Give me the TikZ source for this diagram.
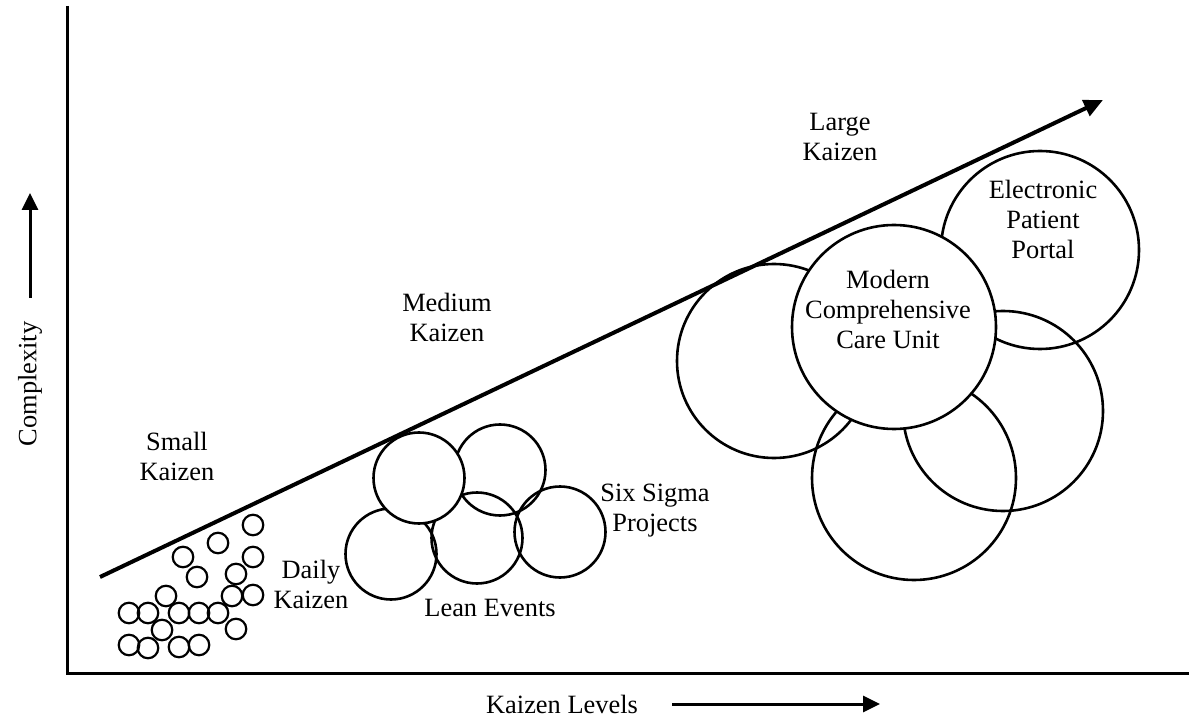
\documentclass[tikz,border=0pt]{standalone}
\usepackage{fontspec}
\setmainfont{Liberation Serif}
\usetikzlibrary{arrows.meta}
\begin{document}
\begin{tikzpicture}[x=0.5pt,y=-0.5pt,
  lbl/.style={align=center,font=\fontsize{13.2}{15}\selectfont,inner sep=0pt},
  axisline/.style={line width=1.5pt},
  tinyc/.style={draw,line width=1.1pt,circle,minimum size=20.5*0.5pt,inner sep=0pt},
  midc/.style={draw,line width=1.3pt,circle,minimum size=91*0.5pt,inner sep=0pt},
  bigc/.style={draw,line width=1.3pt,circle,inner sep=0pt},
  mainarrow/.style={line width=2pt,-{Triangle[length=9.5pt,width=8.5pt]}},
  sidearrow/.style={line width=1.5pt,-{Triangle[length=8.5pt,width=8pt]}}]
\useasboundingbox (0,0) rectangle (1200,727);
% axes
\coordinate (top) at (67,6);
\coordinate (origin) at (67,673);
\coordinate (right) at (1189,673);
\draw[axisline,line join=miter] (top) -- (origin) -- (right);
% axis labels
\node[lbl,rotate=90] (complexity) at (30,384) {Complexity};
\coordinate (cA) at (30,298);
\coordinate (cB) at (30,193);
\draw[sidearrow] (cA) -- (cB);
\node[lbl] (levels) at (562,704) {Kaizen Levels};
\coordinate (lA) at (672,704);
\coordinate (lB) at (880,704);
\draw[sidearrow] (lA) -- (lB);
% small circles
\foreach \i/\x/\y in {1/253/525,2/218/543,3/183/557,4/253/557,5/197/577,6/236/574,
  7/166/596,8/232/596,9/253/595,10/129/613,11/148/613,12/179/613,13/199/613,
  14/218/613,15/162/630,16/236/629,17/129/645,18/148/648,19/179/647,20/199/645}
  \node[tinyc] (s\i) at (\x,\y) {};
% medium circles
\node[midc] (m3) at (391,554) {};
\node[midc] (m4) at (477,538) {};
\node[midc] (m2) at (500,470) {};
\node[midc] (m5) at (560,532) {};
\node[midc,fill=white] (m1) at (419,478) {};
% large circles
\node[bigc,minimum size=194*0.5pt] (b1) at (774,361) {};
\node[bigc,minimum size=198*0.5pt] (b2) at (1040,250) {};
\node[bigc,minimum size=200*0.5pt] (b3) at (1003,411) {};
\node[bigc,minimum size=204*0.5pt] (b4) at (914,478) {};
\node[bigc,fill=white,minimum size=204*0.5pt] (b5) at (894,327) {};
% texts
\node[lbl] (large) at (840,137) {Large\\Kaizen};
\node[lbl] (epp) at (1043,219) {Electronic\\Patient\\Portal};
\node[lbl] (mccu) at (888,309) {Modern\\Comprehensive\\Care Unit};
\node[lbl] (medium) at (447,317) {Medium\\Kaizen};
\node[lbl] (small) at (177,456) {Small\\Kaizen};
\node[lbl] (daily) at (311,584) {Daily\\Kaizen};
\node[lbl] (sixsigma) at (655,511) {Six Sigma\\Projects};
\node[lbl] (lean) at (490,608) {Lean Events};
% main arrow
\coordinate (aS) at (100,577);
\coordinate (aE) at (1103,100);
\draw[mainarrow] (aS) -- (aE);
\end{tikzpicture}
\end{document}
